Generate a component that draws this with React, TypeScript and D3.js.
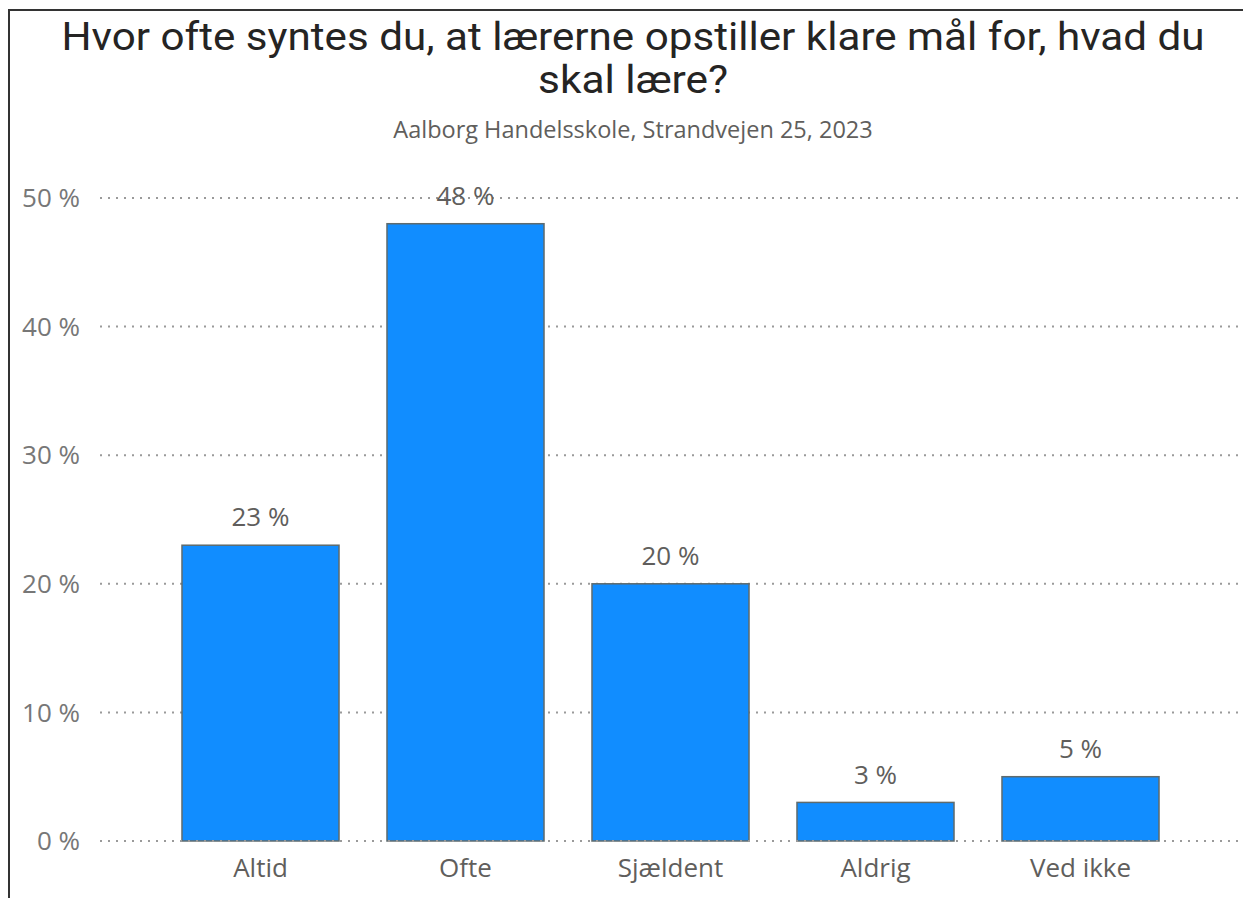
import React from "react";
import * as d3 from "d3";

const categories = ["Altid", "Ofte", "Sjældent", "Aldrig", "Ved ikke"];
const values = [23, 48, 20, 3, 5];
const yTicks = [0, 10, 20, 30, 40, 50];
const titleLines = ["Hvor ofte syntes du, at lærerne opstiller klare mål for, hvad du", "skal lære?"];
const subtitle = "Aalborg Handelsskole, Strandvejen 25, 2023";

export default function App() {
  const W = 1243, H = 898;
  const y = d3.scaleLinear().domain([0, 50]).range([841, 198]);
  const x = d3.scaleBand<string>().domain(categories).range([158, 1183]).paddingInner(0.234).paddingOuter(0.117);
  const font = "'Open Sans', 'Noto Sans', sans-serif";
  return (
    <div style={{ position: "absolute", left: 0, top: 0 }}>
      <svg width={W} height={H} style={{ display: "block", background: "#fff" }}>
        <path d={`M9,${H} V10 H${W}`} fill="none" stroke="#333" strokeWidth={2} />
        <text x={633} y={50} textAnchor="middle" fontFamily="Roboto, sans-serif" fontSize={39} fill="#252423" textLength={1143} lengthAdjust="spacingAndGlyphs">{titleLines[0]}</text>
        <text x={633} y={93} textAnchor="middle" fontFamily="Roboto, sans-serif" fontSize={39} fill="#252423" textLength={190} lengthAdjust="spacingAndGlyphs">{titleLines[1]}</text>
        <text x={633} y={130} dy="0.35em" textAnchor="middle" fontFamily={font} fontSize={23.5} fill="#605e5c">{subtitle}</text>
        {yTicks.map((t) => (
          <g key={t}>
            <line x1={100} x2={W} y1={y(t)} y2={y(t)} stroke="#9a9a9a" strokeWidth={2} strokeDasharray="2,6" />
            <text x={80} y={y(t)} dy="0.35em" textAnchor="end" fontFamily={font} fontSize={26} fill="#777">{`${t} %`}</text>
          </g>
        ))}
        {categories.map((c, i) => (
          <g key={c}>
            <rect x={x(c)!} y={y(values[i])} width={x.bandwidth()} height={y(0) - y(values[i])} fill="#118DFF" stroke="#5f6b6d" strokeWidth={1.5} />
            <text x={x(c)! + x.bandwidth() / 2} y={y(values[i]) - 28} dy="0.35em" textAnchor="middle" fontFamily={font} fontSize={26} fill="#605e5c">{`${values[i]} %`}</text>
            <text x={x(c)! + x.bandwidth() / 2} y={868} dy="0.35em" textAnchor="middle" fontFamily={font} fontSize={26} fill="#605e5c">{c}</text>
          </g>
        ))}
        {yTicks.slice(0, 1).map((t) => (
          <line key="base" x1={100} x2={W} y1={y(t)} y2={y(t)} stroke="#9a9a9a" strokeWidth={2} strokeDasharray="2,6" />
        ))}
      </svg>
    </div>
  );
}
